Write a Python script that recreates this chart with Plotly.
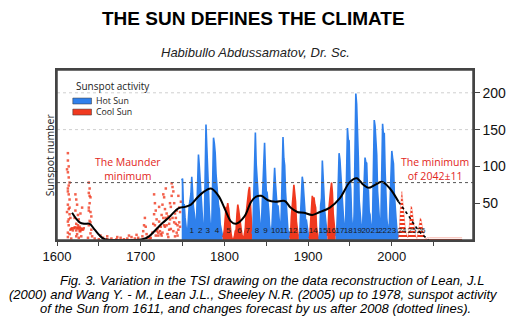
import plotly.graph_objects as go

# ---- annual sunspot numbers (1749-2008) ----
ssn_years = list(range(1749, 2009))
ssn_values = [
    81, 83.4, 47.7, 47.8, 30.7, 12.2, 9.6, 10.2, 32.4, 47.6, 54.0, 62.9, 86, 61.2, 45.1, 36.4, 20.9, 11.4,
    37.8, 69.8, 116, 100.8, 81.6, 66.5, 34.8, 30.6, 7.0, 19.8, 92.5, 157, 125.9, 84.8, 68.1, 38.5, 22.8,
    10.2, 24.1, 82.9, 139, 130.9, 118.1, 89.9, 66.6, 60.0, 46.9, 41.0, 21.3, 16.0, 6.4, 4.1, 6.8, 14.5,
    34.0, 45.0, 43.1, 50, 42.2, 28.1, 10.1, 8.1, 2.5, 0.0, 1.4, 5.0, 12.2, 13.9, 35.4, 48, 41.0, 30.1,
    23.9, 15.6, 6.6, 4.0, 1.8, 8.5, 16.6, 36.3, 49.6, 64.2, 67.0, 72, 47.8, 27.5, 8.5, 13.2, 56.9, 121.5,
    146, 103.2, 85.7, 64.6, 36.7, 24.2, 10.7, 15.0, 40.1, 61.5, 98.5, 132, 96.3, 66.6, 64.5, 54.1, 39.0,
    20.6, 6.7, 4.3, 22.7, 54.8, 93.8, 98, 77.2, 59.1, 44.0, 47.0, 30.5, 16.3, 7.3, 37.6, 74.0, 140, 111.2,
    101.6, 66.2, 44.7, 17.0, 11.3, 12.4, 3.4, 6.0, 32.3, 54.3, 59.7, 75, 63.5, 52.2, 25.4, 13.1, 6.8, 6.3,
    7.1, 35.6, 73.0, 86, 78.0, 64.0, 41.8, 26.2, 26.7, 12.1, 9.5, 2.7, 5.0, 24.4, 42.0, 60, 53.8, 58,
    48.5, 43.9, 18.6, 5.7, 3.6, 1.4, 9.6, 47.4, 57.1, 108, 80.6, 63.6, 37.6, 26.1, 14.2, 5.8, 16.7, 44.3,
    63.9, 69.0, 78, 64.9, 35.7, 21.2, 11.1, 5.7, 8.7, 36.1, 79.7, 118, 109.6, 88.8, 67.8, 47.5, 30.6,
    16.3, 9.6, 33.2, 92.6, 152, 136.3, 134.7, 83.9, 69.4, 31.5, 13.9, 4.4, 38.0, 141.7, 199, 184.8,
    159.0, 112.3, 53.9, 37.6, 27.9, 10.2, 15.1, 47.0, 93.8, 112, 105.5, 104.5, 66.6, 68.9, 38.0, 34.5,
    15.5, 12.6, 27.5, 92.5, 163, 154.7, 140.5, 115.9, 66.6, 45.9, 17.9, 13.4, 29.4, 100.2, 158, 142.6,
    145.7, 94.3, 54.6, 29.9, 17.5, 8.6, 21.5, 64.3, 93.3, 121, 111.0, 104.0, 63.7, 40.4, 29.8, 15.2,
    7.5, 2.9,
]

# groups of cycles: first year, last year, activity class
group_start = [1749, 1798, 1833, 1878, 1889, 1901, 1913, 1923, 1933]
group_end = [1798, 1833, 1878, 1889, 1901, 1913, 1923, 1933, 2008]
group_kind = ["hot", "cool", "hot", "cool", "hot", "cool", "hot", "cool", "hot"]

# ---- reconstructed group sunspot numbers before 1749 ----
early_years = [
    1613, 1613, 1614, 1613, 1614, 1615, 1613, 1614, 1615, 1613, 1614, 1615, 1616, 1613, 1614, 1616, 1615, 1613, 1617,
    1612, 1614, 1613, 1615, 1612, 1614, 1613,
    1622, 1623, 1624, 1622, 1625, 1626, 1623, 1627, 1628, 1624, 1629, 1626, 1630, 1628, 1621, 1625, 1623,
    1618, 1620, 1622, 1624, 1626, 1628, 1630, 1632, 1619, 1623, 1627, 1621, 1625, 1629, 1617, 1631,
    1638, 1639, 1638, 1640, 1639, 1638, 1640, 1641, 1639, 1638, 1641, 1640, 1642, 1637, 1639, 1640, 1638,
    1645, 1650, 1655, 1660, 1665, 1671, 1676, 1680, 1684, 1689, 1693, 1697, 1652, 1660, 1672, 1686, 1695,
    1702, 1703, 1704, 1705, 1706, 1707, 1709, 1712, 1714, 1715, 1716, 1717, 1718, 1719, 1720, 1721, 1722,
    1723, 1724, 1725, 1726, 1727, 1728, 1729, 1730, 1731, 1732, 1733, 1734, 1735, 1736, 1737, 1738, 1739,
    1740, 1741, 1742, 1743, 1744, 1745, 1746, 1747, 1748, 1727, 1728, 1726, 1736, 1738, 1739, 1718, 1737,
    1743, 1745, 1730, 1716, 1722, 1733, 1741, 1717, 1719, 1724, 1729, 1731, 1734, 1735, 1740, 1742, 1744,
    1746, 1747, 1725, 1721, 1711, 1708,
]
early_values = [
    118, 108, 100, 92, 85, 78, 70, 62, 55, 48, 42, 35, 30, 25, 20, 14, 8, 4, 2,
    96, 74, 66, 44, 38, 28, 10,
    62, 55, 48, 40, 34, 28, 22, 18, 12, 8, 5, 3, 44, 36, 30, 20, 5,
    16, 16, 17, 16, 15, 16, 15, 16, 13, 13, 12, 17, 17, 14, 15, 14,
    78, 70, 64, 58, 50, 44, 38, 32, 26, 20, 14, 9, 5, 3, 60, 24, 40,
    2, 1, 3, 1, 2, 1, 3, 1, 2, 4, 2, 3, 6, 5, 4, 6, 7,
    5, 12, 20, 30, 18, 8, 4, 3, 10, 22, 35, 50, 40, 28, 15, 6, 25,
    12, 18, 34, 48, 62, 58, 42, 30, 20, 8, 4, 14, 28, 45, 60, 72, 66,
    50, 36, 22, 10, 6, 14, 24, 38, 52, 30, 20, 10, 15, 30, 12, 6, 77,
    40, 60, 70, 62, 45, 32, 5, 20, 12, 8, 18, 36, 22, 50, 24, 30, 20,
    44, 18, 6, 10, 2, 3,
]

# ---- smoothed activity curve ----
smooth_years = [1618, 1627, 1633, 1639, 1645, 1651, 1657, 1670, 1690, 1702, 1710, 1718, 1726, 1734,
                1745, 1753, 1760, 1768, 1776, 1784, 1793, 1801, 1808, 1814, 1824, 1832, 1838, 1844,
                1852, 1861, 1872, 1879, 1887, 1895, 1905, 1914, 1926, 1938, 1950, 1958, 1966, 1972,
                1980, 1988, 1997, 2008]
smooth_values = [37, 24, 22, 22, 14, 6, 1, 0, 0, 1, 5, 14, 23, 31, 43, 45, 48, 58, 66, 70, 60, 41,
                 25, 22, 32, 52, 59, 60, 54, 52, 53, 44, 38, 37, 34, 38, 44, 57, 79, 84, 75, 71, 75,
                 79, 71, 52]

# forecast of the smoothed curve
trend_years = [2008, 2015, 2020, 2025, 2030, 2035, 2040, 2044]
trend_values = [52, 41, 33, 24, 16, 9, 4, 0]

# forecast cycles 24-26 and the following deep minimum
fc_years = list(range(2008, 2085))
fc_values = [
    3, 15, 40, 62, 66, 55, 40, 28, 18, 10, 5, 3,
    8, 22, 38, 46, 44, 34, 24, 15, 8, 4, 2,
    8, 18, 26, 30, 28, 22, 14, 7, 3, 2, 1,
    3, 3, 3, 3, 3, 3, 3, 3, 3, 3, 3, 3, 3, 3, 3, 3, 3, 3, 3, 3, 3, 3, 3, 3, 3, 3, 3, 3, 3, 3, 3,
    3, 3, 3, 3, 3, 3, 3, 3, 3, 3, 3, 3,
]

# cycle numbers
cycle_labels = [str(i) for i in range(1, 27)]
cycle_years = [1761, 1771, 1780, 1791, 1805, 1818, 1828, 1839, 1849, 1861, 1871, 1882, 1894, 1906,
               1918, 1928, 1938, 1948, 1959, 1969, 1980, 1989, 2000, 2012, 2024, 2035]

x_tick_vals = list(range(1600, 2101, 50))
x_tick_text = ["1600", "", "1700", "", "1800", "", "1900", "", "2000", "", "2100"]
y_tick_vals = [50, 100, 150, 200]

HOT = "#2f80ec"
COOL = "#f0391f"
RED_TEXT = "#e2261b"
NARROW = "Liberation Sans Narrow, Arial Narrow, Liberation Sans, sans-serif"
SANS = "Open Sans, Noto Sans, sans-serif"
ARIAL = "Liberation Sans, Arial, sans-serif"

fig = go.Figure()

# early reconstruction (scatter of red points)
fig.add_trace(go.Scatter(
    x=early_years, y=early_values, mode="markers",
    marker=dict(symbol="square", size=2.5, color=COOL, opacity=0.8, line=dict(width=0)),
    hoverinfo="skip", showlegend=False))

# observed cycles, coloured by group
for s, e, k in zip(group_start, group_end, group_kind):
    xs = [y for y in ssn_years if s <= y <= e]
    ys = [v for y, v in zip(ssn_years, ssn_values) if s <= y <= e]
    col = HOT if k == "hot" else COOL
    fig.add_trace(go.Scatter(
        x=xs, y=ys, mode="lines", fill="tozeroy", fillcolor=col,
        line=dict(color=col, width=1.6), hoverinfo="skip", showlegend=False))

# forecast cycles, hatched
fig.add_trace(go.Scatter(
    x=fc_years, y=fc_values, mode="lines", fill="tozeroy", fillcolor="white",
    fillpattern=dict(shape="-", fgcolor=COOL, bgcolor="white", fgopacity=1, fillmode="replace",
                     size=4, solidity=0.5),
    line=dict(color="rgba(240,57,31,0.6)", width=0.6), hoverinfo="skip", showlegend=False))

# cycle numbers
fig.add_trace(go.Scatter(
    x=cycle_years, y=[12] * len(cycle_years), mode="text", text=cycle_labels,
    textfont=dict(family=NARROW, size=8, color="#1a1a1a"), hoverinfo="skip", showlegend=False))

# smoothed curve and its forecast
fig.add_trace(go.Scatter(
    x=smooth_years, y=smooth_values, mode="lines",
    line=dict(color="black", width=2, shape="spline", smoothing=1), hoverinfo="skip", showlegend=False))
fig.add_trace(go.Scatter(
    x=trend_years, y=trend_values, mode="lines",
    line=dict(color="black", width=1.6, dash="dot", shape="spline"), hoverinfo="skip", showlegend=False))

shapes = [
    dict(type="line", xref="paper", yref="y", x0=0, x1=1, y0=150, y1=150,
         line=dict(color="#cfcfcf", width=1, dash="dot"), layer="below"),
    dict(type="line", xref="paper", yref="y", x0=0, x1=1, y0=200, y1=200,
         line=dict(color="#cfcfcf", width=1, dash="dot"), layer="below"),
    dict(type="line", xref="paper", yref="y", x0=0, x1=1, y0=78, y1=78,
         line=dict(color="#555", width=1, dash="dot"), layer="above"),
    # plot frame
    dict(type="rect", xref="paper", yref="paper", x0=0, x1=1, y0=0, y1=1,
         line=dict(color="#444", width=1.5), layer="above"),
    # legend swatches
    dict(type="rect", xref="paper", yref="paper", x0=0.038, x1=0.083, y0=0.80, y1=0.835,
         fillcolor=HOT, line=dict(color="#333", width=0.5)),
    dict(type="rect", xref="paper", yref="paper", x0=0.038, x1=0.083, y0=0.735, y1=0.77,
         fillcolor=COOL, line=dict(color="#333", width=0.5)),
]


def note(text, x, y, size, family=ARIAL, color="#222", xanchor="center", xref="paper", yref="paper",
         yshift=0, angle=0):
    return dict(text=text, x=x, y=y, xref=xref, yref=yref, xanchor=xanchor, yanchor="middle",
                yshift=yshift, textangle=angle, showarrow=False,
                font=dict(family=family, size=size, color=color))


annotations = [
    note("<b>THE SUN DEFINES THE CLIMATE</b>", 0.473, 1.0, 19, color="black", yshift=52),
    note("<i>Habibullo Abdussamatov, Dr. Sc.</i>", 0.477, 1.0, 13, yshift=18),
    note("Sunspot number", -0.016, 0.5, 10.5, family=SANS, angle=-90),
    note("Sunspot activity", 0.04, 0.906, 10, family=SANS, xanchor="left"),
    note("Hot Sun", 0.088, 0.818, 8.8, family=SANS, xanchor="left"),
    note("Cool Sun", 0.088, 0.752, 8.8, family=SANS, xanchor="left"),
    note("The Maunder<br>minimum", 1685, 97, 10.5, family=SANS, color=RED_TEXT, xref="x", yref="y"),
    note("The minimum<br>of 2042±11", 2051, 97, 10.5, family=SANS, color=RED_TEXT, xref="x", yref="y"),
    note("<i>Fig. 3. Variation in the TSI drawing on the data reconstruction of Lean, J.L</i>",
         0.518, 0, 13, color="black", yshift=-40),
    note("<i>(2000) and Wang Y. - M., Lean J.L., Sheeley N.R. (2005) up to 1978, sunspot activity</i>",
         0.473, 0, 13, color="black", yshift=-54),
    note("<i>of the Sun from 1611, and changes forecast by us after 2008 (dotted lines).</i>",
         0.478, 0, 13, color="black", yshift=-68),
]

fig.update_layout(
    width=518, height=321,
    margin=dict(l=57, r=40, t=70, b=81),
    paper_bgcolor="white", plot_bgcolor="white",
    showlegend=False,
    shapes=shapes, annotations=annotations,
    xaxis=dict(range=[1600, 2097], tickvals=x_tick_vals, ticktext=x_tick_text,
               ticks="outside", ticklen=4, tickcolor="#444", showline=True, linecolor="#444",
               linewidth=1.5, mirror=True, showgrid=False, zeroline=False,
               tickfont=dict(family=NARROW, size=13, color="#111")),
    yaxis=dict(range=[0, 231], side="right", tickvals=y_tick_vals,
               ticks="outside", ticklen=5, tickcolor="#444", showline=True, linecolor="#444",
               linewidth=1.5, mirror=True, showgrid=False, zeroline=False,
               tickfont=dict(family=NARROW, size=14, color="#111")),
)

fig.write_html("out.html")
